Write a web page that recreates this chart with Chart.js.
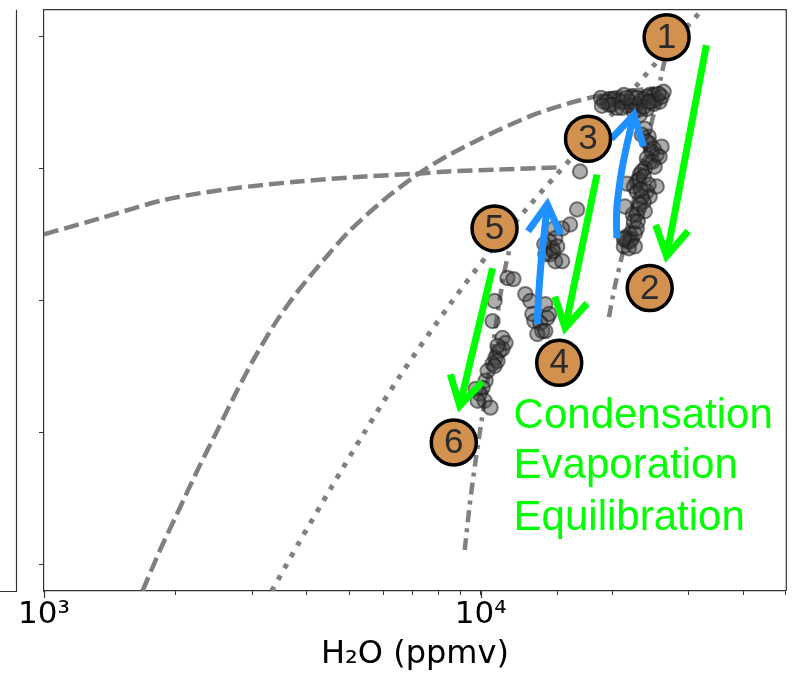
<!DOCTYPE html>
<html>
<head>
<meta charset="utf-8">
<script src="https://cdn.jsdelivr.net/npm/chart.js@4.4.1/dist/chart.umd.min.js"></script>
<style>
  html, body { margin: 0; padding: 0; background: #fff; }
  canvas { display: block; }
</style>
</head>
<body>
<canvas id="chart" width="795" height="674"></canvas>
<script>
// x = H2O (ppmv, log), y = dD (permil) - y labels live on the neighbouring panel
const yTicks = [-300, -250, -200, -150, -100];
const xMajor = [1000, 10000];

// model curves
const mixFlatX = [1000, 1342, 1906, 2695, 3830, 5441, 7186, 8410, 10933, 14979];
const mixFlatY = [-174.8, -168.8, -161.6, -157.5, -154.8, -152.9, -151.8, -151.0, -150.3, -149.5];
const mixSteepX = [1681, 1850, 2040, 2250, 2480, 2750, 3050, 3400, 3830, 4400, 4977, 5982, 7186, 8410, 10933, 13484, 16634, 20516, 25040];
const mixSteepY = [-310, -294, -279, -264, -250, -235, -221, -208, -196, -184, -174, -162, -152, -145, -135.5, -129, -124.3, -121, -119.5];
const rayleighX = [3324, 3830, 4553, 5413, 6470, 8546, 10538, 12997, 16032, 20196, 25305, 32210];
const rayleighY = [-310, -291.9, -270.7, -250.0, -229.6, -200.9, -181.2, -163.5, -146.5, -128.4, -109.5, -89.5];
const equilLowX = [9196, 9439, 9741, 10053, 10373, 10706, 11049, 11343, 11644];
const equilLowY = [-294.5, -277.5, -260.5, -245.4, -230.3, -215.2, -200.1, -188.8, -180.5];
const equilHighX = [19672, 20303, 21066, 21854, 22790, 23770, 24652, 25305, 25840, 26387];
const equilHighY = [-206.2, -194.5, -183.1, -169.9, -156.7, -143.5, -132.2, -124.6, -115.9, -109.1];

// observations
const obs1X = [19163, 19672, 20196, 20735, 21288, 21628, 21970, 22435, 22790, 23154, 23396, 23645, 24018, 24393, 24914, 25305, 25703, 26247, 20516, 19672,
  18860, 19470, 21066, 22198, 23030, 24652, 25976, 24018,
  19980, 21066, 22198, 23645, 24914, 25570, 22790, 21628, 24266, 18960,
  23770, 24266, 24393, 24914, 25305, 24393, 23770, 23154, 22790, 22435, 22790, 24018, 24393, 23645, 23030, 22790, 22435, 22790, 21970, 21628, 21288, 22198, 21854,
  23396, 24652, 24018, 23396, 23030, 23396, 23154, 22316, 22553, 21400,
  24018, 24783, 23645, 24266, 23270, 23770, 22910, 21970, 21288, 22553,
  25976, 25703, 25040, 25305, 21628, 21400];
const obs1Y = [-124.6, -123.5, -123.5, -124.2, -122.0, -126.1, -124.6, -128.4, -125.7, -129.5, -123.9, -123.5, -127.3, -122.0, -122.0, -123.5, -124.6, -120.8, -126.9, -125.7,
  -123.1, -124.6, -124.6, -122.7, -127.6, -124.6, -122.7, -122.7,
  -125.7, -126.9, -126.1, -126.5, -125.4, -121.6, -123.1, -123.1, -124.6, -126.1,
  -134.8, -137.8, -140.5, -142.4, -144.6, -147.3, -149.9, -152.2, -154.8, -156.7, -158.6, -158.6, -160.5, -162.4, -165.0, -167.3, -169.9, -172.6, -174.8, -177.5, -179.4, -176.7, -180.1,
  -137.1, -143.5, -146.1, -151.0, -154.1, -160.5, -163.5, -167.3, -174.5, -176.0,
  -139.7, -147.3, -152.9, -156.0, -157.8, -166.1, -169.9, -177.5, -176.7, -179.4,
  -141.6, -145.4, -149.2, -156.7, -155.6, -164.3];
const obs2X = [16896, 16634, 16032, 15375, 14745, 14823, 14590, 14064, 13990, 14438, 14823, 15375, 12660, 12997, 13135, 13273, 14064, 14212, 14362, 13699, 13843, 13484, 14064, 14362, 14667, 14979];
const obs2Y = [-151.0, -165.4, -171.1, -172.6, -172.6, -176.3, -180.1, -182.4, -178.6, -182.4, -185.0, -185.0, -197.5, -200.1, -205.0, -207.7, -201.3, -206.5, -205.0, -208.4, -211.5, -212.6, -211.5, -177.5, -181.2, -179.4];
const obs3X = [11521, 11890, 10762, 10650, 11224, 11403, 11049, 10819, 10650, 10933, 11224, 10266, 10106, 9948, 9741, 10212, 10538, 9845, 10373, 10933, 10762];
const obs3Y = [-191.4, -191.8, -200.1, -207.7, -214.1, -216.0, -219.0, -221.6, -223.9, -222.8, -218.3, -230.3, -233.0, -235.2, -233.4, -237.9, -240.5, -237.9, -226.6, -217.1, -224.7];

// numbered stages
const stageLabels = ['1', '2', '3', '4', '5', '6'];
const stageX = [26667, 24393, 17620, 15136, 10762, 8680];
const stageY = [-100.1, -195.2, -138.6, -223.5, -172.6, -253.7];

// condensation arrows (start -> tip)
const condX = [[32890, 26667], [18472, 15618], [10650, 8957]];
const condY = [[-103.1, -183.1], [-152.2, -210.3], [-187.7, -239.8]];
// evaporation arrows (curved, bottom -> tip)
const evapX = [[20516, 20410, 20735, 21066, 21628, 22435], [13484, 13555, 13699, 13843, 14064, 14212]];
const evapY = [[-176.3, -167.3, -157.5, -149.9, -140.8, -129.5], [-208.8, -199.0, -188.8, -180.1, -171.1, -163.5]];

const legendLines = ['Condensation', 'Evaporation', 'Equilibration'];
const legendX = 11900;
const legendY = [-248.1, -267.3, -287.0];

const zip = (xs, ys) => xs.map((x, i) => ({x: x, y: ys[i]}));

function curve(xs, ys, dash, width) {
  return {
    data: zip(xs, ys), showLine: true, pointRadius: 0, borderColor: '#808080',
    borderWidth: width, borderDash: dash, tension: 0.3, borderCapStyle: 'butt'
  };
}
function obs(xs, ys) {
  return {
    data: zip(xs, ys), showLine: false, pointRadius: 7.2, borderWidth: 2,
    backgroundColor: 'rgba(60,60,60,0.42)', borderColor: 'rgba(25,25,25,0.55)'
  };
}

function arrowHead(ctx, from, tip, len) {
  const a = Math.atan2(tip.y - from.y, tip.x - from.x);
  const d = Math.PI / 6;
  ctx.beginPath();
  ctx.moveTo(tip.x - len * Math.cos(a - d), tip.y - len * Math.sin(a - d));
  ctx.lineTo(tip.x, tip.y);
  ctx.lineTo(tip.x - len * Math.cos(a + d), tip.y - len * Math.sin(a + d));
  ctx.stroke();
}

const decorations = {
  id: 'decorations',
  afterDatasetsDraw(chart) {
    const ctx = chart.ctx;
    const xs = chart.scales.x, ys = chart.scales.y;
    const P = (x, y) => ({x: xs.getPixelForValue(x), y: ys.getPixelForValue(y)});
    ctx.save();
    ctx.lineWidth = 7;
    ctx.lineCap = 'butt';
    ctx.lineJoin = 'miter';

    // evaporation (blue, curved)
    ctx.strokeStyle = '#1E90FF';
    evapX.forEach((xsArr, k) => {
      const pts = xsArr.map((x, i) => P(x, evapY[k][i]));
      ctx.beginPath();
      ctx.moveTo(pts[0].x, pts[0].y);
      for (let i = 1; i < pts.length - 1; i++) {
        const mx = (pts[i].x + pts[i + 1].x) / 2, my = (pts[i].y + pts[i + 1].y) / 2;
        ctx.quadraticCurveTo(pts[i].x, pts[i].y, mx, my);
      }
      const last = pts[pts.length - 1];
      ctx.lineTo(last.x, last.y);
      ctx.stroke();
      arrowHead(ctx, pts[pts.length - 2], last, 33);
    });

    // condensation (green)
    ctx.strokeStyle = '#00FF00';
    condX.forEach((pair, k) => {
      const a = P(pair[0], condY[k][0]), b = P(pair[1], condY[k][1]);
      ctx.beginPath();
      ctx.moveTo(a.x, a.y);
      ctx.lineTo(b.x, b.y);
      ctx.stroke();
      arrowHead(ctx, a, b, 33);
    });

    // numbered circles
    stageLabels.forEach((lab, i) => {
      const c = P(stageX[i], stageY[i]);
      ctx.beginPath();
      ctx.arc(c.x, c.y, 22.5, 0, Math.PI * 2);
      ctx.fillStyle = '#D2914F';
      ctx.fill();
      ctx.lineWidth = 3.5;
      ctx.strokeStyle = '#000';
      ctx.stroke();
      ctx.fillStyle = '#2b2b2b';
      ctx.font = '35px "Liberation Sans", Arial, sans-serif';
      ctx.textAlign = 'center';
      ctx.textBaseline = 'middle';
      ctx.fillText(lab, c.x, c.y + 1);
    });

    // process text
    ctx.fillStyle = '#00FF00';
    ctx.font = '42px "Liberation Sans", Arial, sans-serif';
    ctx.textAlign = 'left';
    ctx.textBaseline = 'alphabetic';
    legendLines.forEach((t, i) => {
      const p = P(legendX, legendY[i]);
      ctx.fillText(t, p.x, p.y);
    });
    ctx.restore();
  },
  afterDraw(chart) {
    const ctx = chart.ctx, a = chart.chartArea;
    ctx.save();
    ctx.strokeStyle = '#333';
    ctx.lineWidth = 1.2;
    ctx.beginPath();
    ctx.moveTo(a.left, a.top + 0.5);
    ctx.lineTo(a.right + 0.5, a.top + 0.5);
    ctx.lineTo(a.right + 0.5, a.bottom);
    ctx.stroke();
    // longer major ticks on the log axis
    ctx.beginPath();
    xMajor.forEach(v => {
      const x = Math.round(chart.scales.x.getPixelForValue(v)) + 0.5;
      ctx.moveTo(x, a.bottom);
      ctx.lineTo(x, a.bottom + 7);
    });
    ctx.stroke();
    // edge of the neighbouring panel
    ctx.beginPath();
    ctx.moveTo(16.5, a.top + 0.5);
    ctx.lineTo(16.5, a.bottom + 0.5);
    ctx.lineTo(0, a.bottom + 0.5);
    ctx.stroke();
    ctx.restore();
  }
};

const supers = {1000: '10³', 10000: '10⁴'};

new Chart(document.getElementById('chart'), {
  type: 'scatter',
  data: {
    datasets: [
      obs(obs1X, obs1Y),
      obs(obs2X, obs2Y),
      obs(obs3X, obs3Y),
      curve(equilHighX, equilHighY, [12, 6, 4, 6], 4.5),
      curve(equilLowX, equilLowY, [12, 6, 4, 6], 4.5),
      curve(rayleighX, rayleighY, [5, 8], 5),
      curve(mixSteepX, mixSteepY, [15, 6], 4.5),
      curve(mixFlatX, mixFlatY, [15, 6], 4.5)
    ]
  },
  options: {
    responsive: false,
    animation: false,
    events: [],
    layout: { padding: { left: 0, right: 5, top: 7, bottom: 0 } },
    plugins: { legend: { display: false }, tooltip: { enabled: false } },
    scales: {
      x: {
        type: 'logarithmic', min: 1000, max: 50000,
        afterFit: s => { s.height = 83; },
        border: { color: '#333', width: 1.2 },
        grid: { drawOnChartArea: false, tickLength: 4, color: '#333' },
        ticks: {
          autoSkip: false, maxRotation: 0, padding: 1, color: '#000',
          font: { family: 'DejaVu Sans', size: 31 },
          callback: v => supers[v] || ''
        },
        title: {
          display: true, text: 'H₂O (ppmv)', color: '#000',
          font: { family: 'DejaVu Sans', size: 32 }, padding: { top: 0, bottom: 0 }
        }
      },
      y: {
        min: -310, max: -89.5,
        afterFit: s => { s.width = 44; },
        afterBuildTicks: s => { s.ticks = yTicks.map(v => ({ value: v })); },
        border: { color: '#333', width: 1.2 },
        grid: { drawOnChartArea: false, tickLength: 5, color: '#333' },
        ticks: { display: false }
      }
    }
  },
  plugins: [decorations]
});
</script>
</body>
</html>
